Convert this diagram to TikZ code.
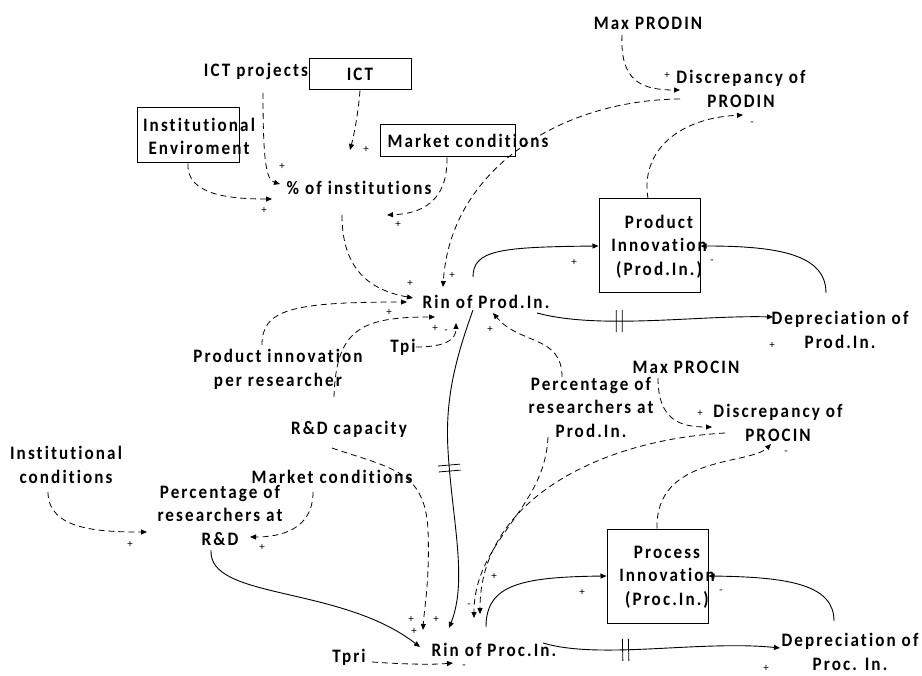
\documentclass[tikz,border=0pt]{standalone}
\usepackage{fontspec}
\setmainfont{Carlito}[LetterSpace=11, FakeStretch=0.9, Ligatures={NoCommon}]
\newfontfamily\signfont{Carlito}
\usetikzlibrary{arrows.meta,decorations.markings}
\begin{document}
\begin{tikzpicture}[x=1pt,y=-1pt,
  lbl/.style={font=\fontsize{19}{23.5}\selectfont\bfseries, align=center, inner sep=0pt},
  sign/.style={font=\signfont\fontsize{11}{11}\selectfont, inner sep=0pt},
  level/.style={draw, line width=1pt, inner sep=0pt},
  link/.style={line width=0.8pt, dash pattern=on 6pt off 4pt, -{Triangle[length=6pt,width=5pt]}},
  flow/.style={line width=0.9pt, -{Triangle[length=6pt,width=5pt]}},
  delaymark/.style={postaction={decorate}, decoration={markings,
      mark=at position #1 with {\draw[-,solid,line width=0.8pt] (-3,-11)--(-3,11) (3,-11)--(3,11);}}},
]
\useasboundingbox (0,0) rectangle (922,676);

% ---------- stocks (boxes) ----------
\node[level, lbl, minimum width=102pt, minimum height=31pt] (ict) at (360,74.5) {ICT};
\node[level, minimum width=102pt, minimum height=55pt] (instbox) at (188,135.5) {};
\node[lbl] (inst) at (199,136.5) {Institutional\\Enviroment};
\node[level, minimum width=135pt, minimum height=32pt] (mktbox) at (447.5,141) {};
\node[lbl] (mkt) at (468,141) {Market conditions};
\node[level, minimum width=101pt, minimum height=94pt] (prodbox) at (649.5,246) {};
\node[lbl] (prodtxt) at (659,246.5) {Product\\Innovation\\(Prod.In.)};
\node[level, minimum width=101pt, minimum height=94pt] (procbox) at (657.5,576) {};
\node[lbl] (proctxt) at (667,577) {Process\\Innovation\\(Proc.In.)};

% ---------- variables ----------
\node[lbl] (ictproj) at (256,71) {ICT projects};
\node[lbl] (maxprod) at (648,23) {Max PRODIN};
\node[lbl] (discprod) at (741,89) {Discrepancy of\\PRODIN};
\node[lbl] (pctinst) at (359,188) {\% of institutions};
\node[lbl] (rinprod) at (486,302) {Rin of Prod.In.};
\node[lbl] (depprod) at (840,330) {Depreciation of\\Prod.In.};
\node[lbl] (pir) at (278,369.5) {Product innovation\\per researcher};
\node[lbl] (tpi) at (403,347) {Tpi};
\node[lbl] (pctprod) at (591,407) {Percentage of\\researchers at\\Prod.In.};
\node[lbl] (maxproc) at (686,367) {Max PROCIN};
\node[lbl] (discproc) at (778,423) {Discrepancy of\\PROCIN};
\node[lbl] (rinproc) at (494,650) {Rin of Proc.In.};
\node[lbl] (depproc) at (850,652) {Depreciation of\\Proc. In.};
\node[lbl] (instcond) at (66,465) {Institutional\\conditions};
\node[lbl] (rdcap) at (349,429) {R\&D capacity};
\node[lbl] (mktcond) at (332,477) {Market conditions};
\node[lbl] (pctrd) at (220,515) {Percentage of\\researchers at\\R\&D};
\node[lbl] (tpri) at (349,657) {Tpri};

% ---------- causal links (dashed) ----------
\draw[link] ([shift={(7,22)}]ictproj.center) .. controls (263,160) and (266,180) .. ([shift={(-79,-4)}]pctinst.center);
\draw[link] (ict.south) .. controls (358,115) and (354,135) .. ([shift={(-9,-38)}]pctinst.center);
\draw[link] (instbox.south) .. controls (186,195) and (230,199) .. ([shift={(-87,11)}]pctinst.center);
\draw[link] ([xshift=-0.5pt]mktbox.south) .. controls (448,210) and (410,214) .. ([shift={(28,27)}]pctinst.center);
\draw[link] ([shift={(-17,27)}]pctinst.center) .. controls (342,270) and (370,290) .. ([shift={(-73,-4)}]rinprod.center);
\draw[link] ([shift={(-61,10)}]discprod.center) .. controls (560,100) and (450,170) .. ([shift={(-43,-15)}]rinprod.center);
\draw[link] ([shift={(-26,12)}]maxprod.center) .. controls (620,80) and (640,90) .. ([shift={(-61,1)}]discprod.center);
\draw[link] ([xshift=-1.5pt]prodbox.north) .. controls (640,150) and (680,118) .. ([shift={(2,26)}]discprod.center);
\draw[link] ([shift={(-16,-24.5)}]pir.center) .. controls (262,310) and (290,302) .. ([shift={(-79,0)}]rinprod.center);
\draw[link] ([shift={(-15,-32)}]rdcap.center) .. controls (336,330) and (360,317) .. ([shift={(-51,15)}]rinprod.center);
\draw[link] ([shift={(13,0)}]tpi.center) .. controls (445,347) and (456,340) .. ([shift={(-30,21)}]rinprod.center);
\draw[link] ([shift={(-29,-30)}]pctprod.center) .. controls (562,335) and (520,345) .. ([shift={(7,11)}]rinprod.center);
\draw[link] ([shift={(-43,30)}]pctprod.center) .. controls (545,510) and (474,540) .. ([shift={(-20,-32)}]rinproc.center);
\draw[link] ([shift={(-53,10)}]discproc.center) .. controls (600,440) and (480,500) .. ([shift={(-14,-36)}]rinproc.center);
\draw[link] ([shift={(-28,11)}]maxproc.center) .. controls (658,420) and (680,427) .. ([shift={(-66,4)}]discproc.center);
\draw[link] ([xshift=-0.5pt]procbox.north) .. controls (655,455) and (750,465) .. ([shift={(-7,21)}]discproc.center);
\draw[link] ([shift={(-18,27)}]instcond.center) .. controls (48,530) and (100,532) .. ([shift={(-73,17)}]pctrd.center);
\draw[link] ([shift={(-19,15)}]mktcond.center) .. controls (313,530) and (280,537) .. ([shift={(30,22)}]pctrd.center);
\draw[link] ([shift={(-17,19)}]rdcap.center) .. controls (390,468) and (425,470) .. (428,530) .. controls (430,580) and (424,610) .. ([shift={(-71,-20)}]rinproc.center);
\draw[link] ([shift={(23,5)}]tpri.center) .. controls (400,664) and (430,665) .. ([shift={(-41,13)}]rinproc.center);

% ---------- flows (solid) ----------
\draw[flow] ([shift={(-13,-25)}]rinprod.center) .. controls (473,250) and (500,247) .. (prodbox.west);
\draw[flow] ([shift={(-14,-37)}]depprod.center) .. controls (826,255) and (780,246) .. (prodbox.east);
\draw[flow, delaymark=0.35] ([shift={(51,11)}]rinprod.center) .. controls (600,330) and (700,315) .. ([shift={(-67,-13)}]depprod.center);
\draw[flow, delaymark=0.5] ([shift={(-13,8)}]rinprod.center) .. controls (455,360) and (445,400) .. (448,450) .. controls (452,520) and (468,580) .. ([shift={(-45,-22)}]rinproc.center);
\draw[flow] ([shift={(-9,35)}]pctrd.center) .. controls (208,600) and (340,585) .. ([shift={(-74,-3)}]rinproc.center);
\draw[flow] ([shift={(-8,-23)}]rinproc.center) .. controls (486,585) and (520,577) .. (procbox.west);
\draw[flow] ([shift={(-16,-31)}]depproc.center) .. controls (834,585) and (790,577) .. (procbox.east);
\draw[flow, delaymark=0.35] ([shift={(49,-7)}]rinproc.center) .. controls (600,660) and (700,640) .. ([shift={(-70,-4)}]depproc.center);

% ---------- polarity signs ----------
\node[sign] (s1) at (667,75) {+};
\node[sign] (s2) at (366,149) {+};
\node[sign] (s3) at (282,166) {+};
\node[sign] (s4) at (264,210) {+};
\node[sign] (s5) at (398,224) {+};
\node[sign] (s6) at (452,275) {+};
\node[sign] (s7) at (410,283) {+};
\node[sign] (s8) at (389,312) {+};
\node[sign] (s9) at (435,328) {+};
\node[sign] (s10) at (446,332) {-};
\node[sign] (s11) at (490,329) {+};
\node[sign] (s12) at (574,262) {+};
\node[sign] (s13) at (712,262) {-};
\node[sign] (s14) at (772,345) {+};
\node[sign] (s15) at (752,124) {-};
\node[sign] (s16) at (700,413) {+};
\node[sign] (s17) at (786,453) {-};
\node[sign] (s18) at (494,576) {+};
\node[sign] (s19) at (469,606) {-};
\node[sign] (s20) at (411,619) {+};
\node[sign] (s21) at (414,631) {+};
\node[sign] (s22) at (436,619) {+};
\node[sign] (s23) at (464,667) {-};
\node[sign] (s24) at (582,592) {+};
\node[sign] (s25) at (721,592) {-};
\node[sign] (s26) at (766,668) {+};
\node[sign] (s27) at (130,544) {+};
\node[sign] (s28) at (262,547) {+};
\end{tikzpicture}
\end{document}
